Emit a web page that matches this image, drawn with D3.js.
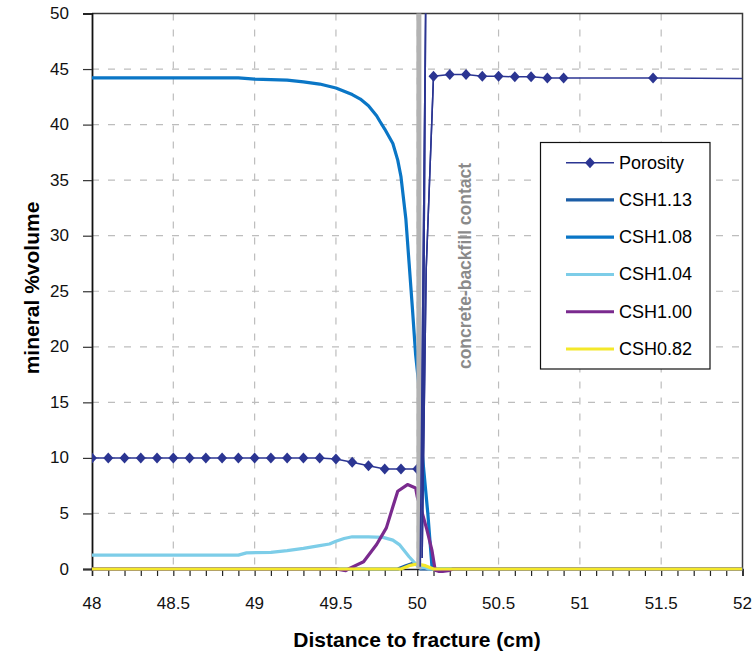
<!DOCTYPE html>
<html>
<head>
<meta charset="utf-8">
<script src="https://cdn.jsdelivr.net/npm/d3@7"></script>
<style>
  html, body { margin: 0; padding: 0; background: #fff; }
  svg { display: block; font-family: "Liberation Sans", Arial, sans-serif; }
</style>
</head>
<body>
<svg id="chart" width="754" height="655"></svg>
<script>
// Mineral volume fractions across the concrete/backfill interface

const xTicks = [48, 48.5, 49, 49.5, 50, 50.5, 51, 51.5, 52];
const yTicks = [0, 5, 10, 15, 20, 25, 30, 35, 40, 45, 50];
const contactX = 50.01;

// Porosity profile in model order; marked nodes are listed separately
const porosityProfile = [
  [48.0, 10], [48.1, 10], [48.2, 10], [48.3, 10], [48.4, 10], [48.5, 10],
  [48.6, 10], [48.7, 10], [48.8, 10], [48.9, 10], [49.0, 10], [49.1, 10],
  [49.2, 10], [49.3, 10], [49.4, 10], [49.5, 9.9], [49.6, 9.6], [49.7, 9.3],
  [49.8, 9.0], [49.9, 9.0], [50.0, 9.0],
  [50.018, 0.2], [50.052, 51], [50.03, 1], [50.055, 27],
  [50.1, 44.35], [50.2, 44.5], [50.3, 44.5], [50.4, 44.35], [50.5, 44.35],
  [50.6, 44.3], [50.7, 44.3], [50.8, 44.2], [50.9, 44.2], [51.45, 44.2], [52.0, 44.15]
];
const porosityMarked = [
  48.0, 48.1, 48.2, 48.3, 48.4, 48.5, 48.6, 48.7, 48.8, 48.9, 49.0, 49.1, 49.2,
  49.3, 49.4, 49.5, 49.6, 49.7, 49.8, 49.9, 50.0,
  50.1, 50.2, 50.3, 50.4, 50.5, 50.6, 50.7, 50.8, 50.9, 51.45
];

const csh113 = [
  [48.0, 0], [49.88, 0], [49.93, 0.3], [49.97, 0.5], [50.0, 0.4], [50.02, 0], [52.0, 0]
];
const csh108 = [
  [48.0, 44.2], [48.5, 44.2], [48.9, 44.2], [49.0, 44.1], [49.1, 44.05], [49.2, 44.0],
  [49.3, 43.85], [49.4, 43.65], [49.5, 43.3], [49.55, 43.0], [49.6, 42.7], [49.65, 42.3],
  [49.7, 41.7], [49.75, 40.8], [49.77, 40.3], [49.8, 39.6], [49.85, 38.3], [49.88, 36.8],
  [49.9, 35.3], [49.93, 31.5], [49.95, 27.5], [49.97, 23.5], [49.99, 19.3], [50.01, 16.5],
  [50.03, 10.5], [50.065, 5.0], [50.09, 0.3], [50.1, 0], [52.0, 0]
];
const csh104 = [
  [48.0, 1.25], [48.9, 1.25], [48.95, 1.45], [49.1, 1.5], [49.2, 1.65], [49.3, 1.85],
  [49.4, 2.1], [49.46, 2.25], [49.5, 2.5], [49.55, 2.75], [49.6, 2.9], [49.7, 2.9],
  [49.79, 2.85], [49.85, 2.6], [49.89, 2.2], [49.95, 1.1], [50.0, 0.3], [50.02, 0.1],
  [50.04, 0.15], [50.07, 0], [52.0, 0]
];
const csh100 = [
  [48.0, 0], [49.5, 0], [49.56, -0.15], [49.59, 0.1], [49.67, 0.65], [49.75, 2.2],
  [49.81, 3.7], [49.85, 5.6], [49.88, 7.0], [49.94, 7.6], [49.99, 7.3], [50.0, 6.5],
  [50.02, 5.6], [50.06, 3.5], [50.09, 1.7], [50.11, -0.1], [50.14, -0.25], [50.19, -0.15],
  [50.22, 0], [52.0, 0]
];
const csh082 = [
  [48.0, 0], [49.9, 0], [49.95, 0.3], [50.0, 0.45], [50.05, 0.3], [50.1, 0], [52.0, 0]
];

const series = [
  { name: "CSH1.13", data: csh113, color: "#1b5da6" },
  { name: "CSH1.08", data: csh108, color: "#0a76c6" },
  { name: "CSH1.04", data: csh104, color: "#7dcde8" },
  { name: "CSH1.00", data: csh100, color: "#7a2a8e" },
  { name: "CSH0.82", data: csh082, color: "#f4e82a" }
];
const porosityColor = "#2b3592";

const svg = d3.select("#chart");
const x = d3.scaleLinear().domain([48, 52]).range([92, 742.5]);
const y = d3.scaleLinear().domain([0, 50]).range([569, 13.5]);

svg.append("defs").append("clipPath").attr("id", "plot")
  .append("rect")
  .attr("x", x(48)).attr("y", y(50))
  .attr("width", x(52) - x(48)).attr("height", y(0) - y(50) + 4);

// gridlines
const grid = svg.append("g");
grid.selectAll(".hg").data(yTicks.filter(d => d > 0 && d < 50)).join("line")
  .attr("x1", x(48)).attr("x2", x(52))
  .attr("y1", d => y(d)).attr("y2", d => y(d))
  .attr("stroke", "#bdbdbd").attr("stroke-width", 1.2).attr("stroke-dasharray", "7,9");
grid.selectAll(".vg").data(xTicks.filter(d => d > 48 && d < 52)).join("line")
  .attr("x1", d => x(d)).attr("x2", d => x(d))
  .attr("y1", y(50)).attr("y2", y(0))
  .attr("stroke", "#bdbdbd").attr("stroke-width", 1.2).attr("stroke-dasharray", "7,9");

// frame (top and right)
svg.append("path")
  .attr("d", `M${x(48)},${y(50)}H${x(52)}V${y(0)}`)
  .attr("fill", "none").attr("stroke", "#3a3a3a").attr("stroke-width", 1.5);

// axes
const minorX = d3.range(480, 521).map(d => d / 10);
const xAxis = d3.axisBottom(x).tickValues(minorX).tickSize(7).tickFormat("");
svg.append("g").attr("transform", `translate(0,${y(0)})`).call(xAxis)
  .call(g => g.select(".domain").attr("stroke", "#222").attr("stroke-width", 1.5))
  .call(g => g.selectAll(".tick line").attr("stroke", "#222").attr("stroke-width", 1.2));
svg.append("g").selectAll("text").data(xTicks).join("text")
  .attr("x", d => x(d)).attr("y", 603)
  .attr("text-anchor", "middle").attr("dominant-baseline", "central")
  .attr("font-size", 17).attr("fill", "#111")
  .text(d => d);

const yAxis = d3.axisLeft(y).tickValues(yTicks).tickSize(9).tickFormat("");
svg.append("g").attr("transform", `translate(${x(48)},0)`).call(yAxis)
  .call(g => g.select(".domain").attr("stroke", "#111").attr("stroke-width", 1.8))
  .call(g => g.selectAll(".tick line").attr("stroke", "#333").attr("stroke-width", 1.2));
svg.append("g").selectAll("text").data(yTicks).join("text")
  .attr("x", 69).attr("y", d => y(d))
  .attr("text-anchor", "end").attr("dominant-baseline", "central")
  .attr("font-size", 17).attr("fill", "#111")
  .text(d => d);

// series
const line = d3.line().x(d => x(d[0])).y(d => y(d[1]));
const plot = svg.append("g").attr("clip-path", "url(#plot)");

plot.append("path").datum(porosityProfile)
  .attr("d", line).attr("fill", "none")
  .attr("stroke", porosityColor).attr("stroke-width", 1.5);

const diamond = "M0,-5.5L5,0L0,5.5L-5,0Z";
const markedSet = new Set(porosityMarked);
plot.selectAll(".pm").data(porosityProfile.filter(d => markedSet.has(d[0]))).join("path")
  .attr("d", diamond)
  .attr("transform", d => `translate(${x(d[0])},${y(d[1])})`)
  .attr("fill", porosityColor);

series.forEach(s => {
  plot.append("path").datum(s.data)
    .attr("d", line).attr("fill", "none")
    .attr("stroke", s.color).attr("stroke-width", 3.2)
    .attr("stroke-linejoin", "round");
});

// concrete/backfill contact
svg.append("line")
  .attr("x1", x(contactX)).attr("x2", x(contactX))
  .attr("y1", y(50)).attr("y2", y(0))
  .attr("stroke", "#b3b3b3").attr("stroke-width", 5);
// porosity spike just past the contact stays on top
const spikeStart = porosityProfile.findIndex(d => d[0] > contactX);
const spikeEnd = porosityProfile.findIndex(d => d[0] >= 50.1);
svg.append("path").datum(porosityProfile.slice(spikeStart, spikeEnd + 1))
  .attr("clip-path", "url(#plot)")
  .attr("d", line).attr("fill", "none")
  .attr("stroke", porosityColor).attr("stroke-width", 1.5);
svg.append("text")
  .attr("transform", `translate(465,266) rotate(-90)`)
  .attr("text-anchor", "middle").attr("dominant-baseline", "central")
  .attr("font-size", 17.5).attr("font-weight", "bold").attr("fill", "#8a8a8a")
  .text("concrete-backfill contact");

// axis titles
svg.append("text")
  .attr("transform", `translate(31,288) rotate(-90)`)
  .attr("text-anchor", "middle").attr("dominant-baseline", "central")
  .attr("font-size", 21).attr("font-weight", "bold").attr("fill", "#000")
  .text("mineral %volume");
svg.append("text")
  .attr("x", 417).attr("y", 639)
  .attr("text-anchor", "middle").attr("dominant-baseline", "central")
  .attr("font-size", 21).attr("font-weight", "bold").attr("fill", "#000")
  .text("Distance to fracture (cm)");

// legend
const legend = svg.append("g");
legend.append("rect")
  .attr("x", 540.5).attr("y", 142.5).attr("width", 169.5).attr("height", 226.5)
  .attr("fill", "#fff").attr("stroke", "#111").attr("stroke-width", 1.2);
const entries = [{ name: "Porosity", color: porosityColor, marker: true }]
  .concat(series.map(s => ({ name: s.name, color: s.color, marker: false })));
const ly = d3.scalePoint().domain(entries.map(e => e.name)).range([162.7, 349]);
entries.forEach(e => {
  const g = legend.append("g").attr("transform", `translate(0,${ly(e.name)})`);
  g.append("line").attr("x1", 566).attr("x2", 614)
    .attr("stroke", e.color).attr("stroke-width", e.marker ? 1.5 : 3.2);
  if (e.marker) g.append("path").attr("d", diamond).attr("transform", "translate(590,0)").attr("fill", e.color);
  g.append("text").attr("x", 619).attr("y", 0)
    .attr("dominant-baseline", "central").attr("font-size", 18).attr("fill", "#000")
    .text(e.name);
});
</script>
</body>
</html>
